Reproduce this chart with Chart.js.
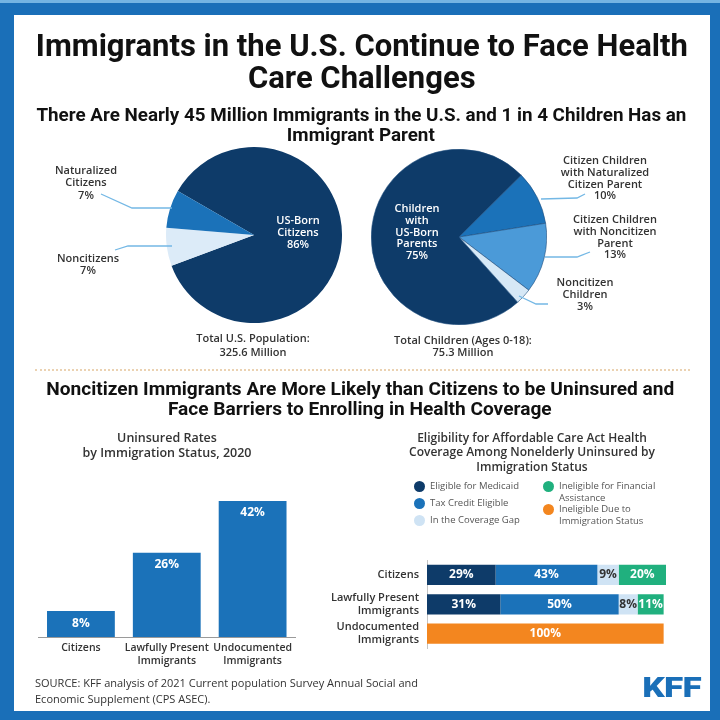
<!DOCTYPE html>
<html>
<head>
<meta charset="utf-8">
<script src="https://cdn.jsdelivr.net/npm/chart.js@4.4.0/dist/chart.umd.min.js"></script>
<style>
  html, body { margin:0; padding:0; }
  body { width:720px; height:720px; overflow:hidden; position:relative; background:#1a6fb8; font-family:'Open Sans', sans-serif; }
  #topband { position:absolute; left:0; top:0; width:720px; height:3px; background:#74b4e2; }
  #panel { position:absolute; left:14px; top:15px; width:696px; height:696px; background:#fff; }
  #texts { position:absolute; left:0; top:0; width:720px; height:720px; z-index:5; }
  .t { position:absolute; white-space:nowrap; color:#333; }
  .c { text-align:center; }
  .head { font-family:'Roboto', sans-serif; font-weight:700; color:#111; }
  canvas { position:absolute; }
  #sep { position:absolute; left:35px; top:369px; width:655px; border-top:2px dotted #ebd2b2; }
  svg { position:absolute; left:0; top:0; z-index:4; }
  .dot { position:absolute; width:11px; height:11px; border-radius:50%; }
  .leg { position:absolute; font-size:9.5px; line-height:11.5px; color:#555; white-space:nowrap; }
</style>
</head>
<body>
<div id="topband"></div>
<div id="panel"></div>
<div id="sep"></div>
<canvas id="pie1" width="176" height="176" style="left:166px;top:147px"></canvas>
<canvas id="pie2" width="176" height="176" style="left:371px;top:149px"></canvas>
<canvas id="bar1" width="259" height="197" style="left:38px;top:475px"></canvas>
<canvas id="bar2" width="336" height="124" style="left:330px;top:539px"></canvas>
<svg width="720" height="720" id="leaders">
  <g fill="none" stroke="#74b8e5" stroke-width="1.3">
    <polyline points="101,194 132,208 172,208"/>
    <polyline points="115,250 128,246 172,246"/>
    <polyline points="541,199 577,198 585,194"/>
    <polyline points="545,257 577,257 590,252"/>
    <polyline points="519,296 536,304 548,304"/>
  </g>
</svg>
<div id="texts"></div>
<script>
// ---------- DATA ----------
const pie1Labels = ['US-Born Citizens', 'Noncitizens', 'Naturalized Citizens'];
const pie1Values = [86, 7, 7];
const pie2Labels = ['Children with US-Born Parents', 'Citizen Children with Naturalized Citizen Parent', 'Citizen Children with Noncitizen Parent', 'Noncitizen Children'];
const pie2Values = [75, 10, 13, 3];

const uninsuredCategories = ['Citizens', ['Lawfully Present', 'Immigrants'], ['Undocumented', 'Immigrants']];
const uninsuredRates = [8, 26, 42];

const eligCategories = ['Citizens', ['Lawfully Present', 'Immigrants'], ['Undocumented', 'Immigrants']];
const eligSeriesNames = ['Eligible for Medicaid', 'Tax Credit Eligible', 'In the Coverage Gap', 'Ineligible for Financial Assistance', 'Ineligible Due to Immigration Status'];
const eligMedicaid = [29, 31, null];
const eligTaxCredit = [43, 50, null];
const eligGap = [9, 8, null];
const eligIneligFinancial = [20, 11, null];
const eligIneligImmigration = [null, null, 100];

// ---------- STYLE ----------
const NAVY = '#0e3b69', MID = '#1b72b9', LIGHT = '#4b9ad8', PALE = '#d6e8f6', PALE1 = '#dcebf8';
const GREEN = '#20b07e', ORANGE = '#f3861f';
const eligColors = [NAVY, MID, '#cfe3f4', GREEN, ORANGE];
const eligLabelColors = ['#fff', '#fff', '#333', '#fff', '#fff'];

// ---------- TEXT ----------
const T = document.getElementById('texts');
function addText(lines, cx, y0, lh, css, cls) {
  const d = document.createElement('div');
  d.className = 't c ' + (cls || '');
  d.style.cssText += 'left:' + (cx - 500) + 'px;width:1000px;top:' + (y0 - lh / 2) + 'px;line-height:' + lh + 'px;' + (css || '');
  d.innerHTML = lines.map(l => '<span style="display:inline-block">' + l + '</span>').join('<br>');
  T.appendChild(d);
  return d;
}
function fitGroup(divs, targetWidth) {
  const first = divs[0].querySelector('span');
  const w = first.getBoundingClientRect().width;
  const s = targetWidth / w;
  divs.forEach(d => d.querySelectorAll('span').forEach(sp => { sp.style.transform = 'scaleX(' + s + ')'; }));
}

const title = addText(['Immigrants in the U.S. Continue to Face Health', 'Care Challenges'], 362, 46, 32, 'font-size:31px;', 'head');
fitGroup([title], 652);
const sub1 = addText(['There Are Nearly 45 Million Immigrants in the U.S. and 1 in 4 Children Has an', 'Immigrant Parent'], 361, 115, 20, 'font-size:17.5px;', 'head');
fitGroup([sub1], 650);
const sub2 = addText(['Noncitizen Immigrants Are More Likely than Citizens to be Uninsured and', 'Face Barriers to Enrolling in Health Coverage'], 360, 389, 19.5, 'font-size:19px;', 'head');
fitGroup([sub2], 628);

const lab = 'font-size:11px;font-weight:600;color:#333;';
const wlab = 'font-size:11px;font-weight:600;color:#fff;';
addText(['Naturalized', 'Citizens', pie1Values[2] + '%'], 86, 170, 12.5, lab);
addText(['Noncitizens', pie1Values[1] + '%'], 88, 258, 12.5, lab);
addText(['US-Born', 'Citizens', pie1Values[0] + '%'], 298, 220, 12, wlab);
addText(['Total U.S. Population:', '325.6 Million'], 253, 338, 13.5, lab);

addText(['Children', 'with', 'US-Born', 'Parents', pie2Values[0] + '%'], 417, 208, 11.8, wlab);
addText(['Citizen Children', 'with Naturalized', 'Citizen Parent', pie2Values[1] + '%'], 605, 160, 11.7, lab);
addText(['Citizen Children', 'with Noncitizen', 'Parent', pie2Values[2] + '%'], 615, 219, 11.7, lab);
addText(['Noncitizen', 'Children', pie2Values[3] + '%'], 585, 282, 11.7, lab);
addText(['Total Children (Ages 0-18):', '75.3 Million'], 463, 340, 12.5, lab);

addText(['Uninsured Rates', 'by Immigration Status, 2020'], 167, 437, 15, 'font-size:12.5px;font-weight:600;color:#333;');
addText(['Eligibility for Affordable Care Act Health', 'Coverage Among Nonelderly Uninsured by', 'Immigration Status'], 532, 438, 14.6, 'font-size:12px;font-weight:600;color:#333;');

// source
const src = document.createElement('div');
src.className = 't';
src.style.cssText = 'left:35px;top:675px;font-size:11px;line-height:15.5px;color:#333;';
src.innerHTML = 'SOURCE: KFF analysis of 2021 Current population Survey Annual Social and<br>Economic Supplement (CPS ASEC).';
T.appendChild(src);

// logo
const logo = addText(['KFF'], 672, 688, 28, 'font-size:27px;font-family:Roboto,sans-serif;font-weight:900;color:#1a6fb8;letter-spacing:-0.5px;');
fitGroup([logo], 59);

// legend
const legendPos = [
  { x: 419, y: 486, tx: 430, lines: ['Eligible for Medicaid'] },
  { x: 419, y: 503, tx: 430, lines: ['Tax Credit Eligible'] },
  { x: 419, y: 520, tx: 430, lines: ['In the Coverage Gap'] },
  { x: 548, y: 486, tx: 559, lines: ['Ineligible for Financial', 'Assistance'] },
  { x: 548, y: 509, tx: 559, lines: ['Ineligible Due to', 'Immigration Status'] }
];
legendPos.forEach((p, i) => {
  const d = document.createElement('div');
  d.className = 'dot';
  d.style.left = (p.x - 5.5) + 'px'; d.style.top = (p.y - 5.5) + 'px';
  d.style.background = eligColors[i];
  T.appendChild(d);
  const l = document.createElement('div');
  l.className = 'leg';
  l.style.left = p.tx + 'px'; l.style.top = (p.y - 6) + 'px';
  l.innerHTML = p.lines.join('<br>');
  T.appendChild(l);
});

// ---------- CHARTS ----------
Chart.defaults.font.family = "'Open Sans', sans-serif";
Chart.defaults.animation = false;

const valueLabels = {
  id: 'valueLabels',
  afterDatasetsDraw(chart, args, opts) {
    const ctx = chart.ctx;
    ctx.save();
    ctx.font = opts.font;
    ctx.textAlign = 'center';
    ctx.textBaseline = 'middle';
    chart.data.datasets.forEach((ds, di) => {
      const meta = chart.getDatasetMeta(di);
      meta.data.forEach((el, i) => {
        const v = ds.data[i];
        if (v == null) return;
        let x, y;
        if (opts.horizontal) { x = (el.x + el.base) / 2; y = el.y; }
        else { x = el.x; y = el.y + opts.offset; }
        ctx.fillStyle = (opts.colors && opts.colors[di]) || '#fff';
        ctx.fillText(v + '%', x, y);
      });
    });
    ctx.restore();
  }
};

const pieOpts = {
  responsive: false,
  plugins: { legend: { display: false }, tooltip: { enabled: false } },
  layout: { padding: 0 }
};

new Chart(document.getElementById('pie1'), {
  type: 'pie',
  data: { labels: pie1Labels, datasets: [{ data: pie1Values, backgroundColor: [NAVY, PALE1, MID], borderWidth: 0 }] },
  options: Object.assign({ rotation: 300 }, pieOpts)
});

new Chart(document.getElementById('pie2'), {
  type: 'pie',
  data: { labels: pie2Labels, datasets: [{ data: pie2Values, backgroundColor: [NAVY, MID, LIGHT, PALE], borderWidth: 0.6, borderColor: '#1f4d7d' }] },
  options: Object.assign({ rotation: 138 }, pieOpts)
});

new Chart(document.getElementById('bar1'), {
  type: 'bar',
  data: { labels: uninsuredCategories, datasets: [{ data: uninsuredRates, backgroundColor: MID, categoryPercentage: 1, barPercentage: 0.79 }] },
  options: {
    responsive: false,
    layout: { padding: 0 },
    plugins: { legend: { display: false }, tooltip: { enabled: false }, valueLabels: { font: "bold 12px 'Open Sans'", offset: 12, colors: ['#fff'] } },
    scales: {
      x: {
        grid: { display: false, drawTicks: false },
        border: { display: true, color: '#9a9a9a', width: 1 },
        ticks: { color: '#333', font: { size: 10.5, weight: '600' }, padding: 5, maxRotation: 0, autoSkip: false },
        afterFit(s) { s.height = 35; }
      },
      y: { display: false, min: 0, max: 50 }
    }
  },
  plugins: [valueLabels]
});

const eligData = [eligMedicaid, eligTaxCredit, eligGap, eligIneligFinancial, eligIneligImmigration];
new Chart(document.getElementById('bar2'), {
  type: 'bar',
  data: {
    labels: eligCategories,
    datasets: eligData.map((d, i) => ({ label: eligSeriesNames[i], data: d, backgroundColor: eligColors[i], categoryPercentage: 1, barPercentage: 0.69 }))
  },
  options: {
    indexAxis: 'y',
    responsive: false,
    layout: { padding: 0 },
    plugins: { legend: { display: false }, tooltip: { enabled: false }, valueLabels: { font: "bold 12px 'Open Sans'", horizontal: true, colors: eligLabelColors } },
    scales: {
      x: { display: false, stacked: true, min: 0, max: 101 },
      y: {
        stacked: true,
        grid: { display: false, drawTicks: false },
        border: { display: true, color: '#c4c4c4', width: 1 },
        ticks: { color: '#333', font: { size: 11, weight: '600' }, padding: 8 },
        afterFit(s) { s.width = 97; }
      }
    }
  },
  plugins: [valueLabels]
});
</script>
</body>
</html>
